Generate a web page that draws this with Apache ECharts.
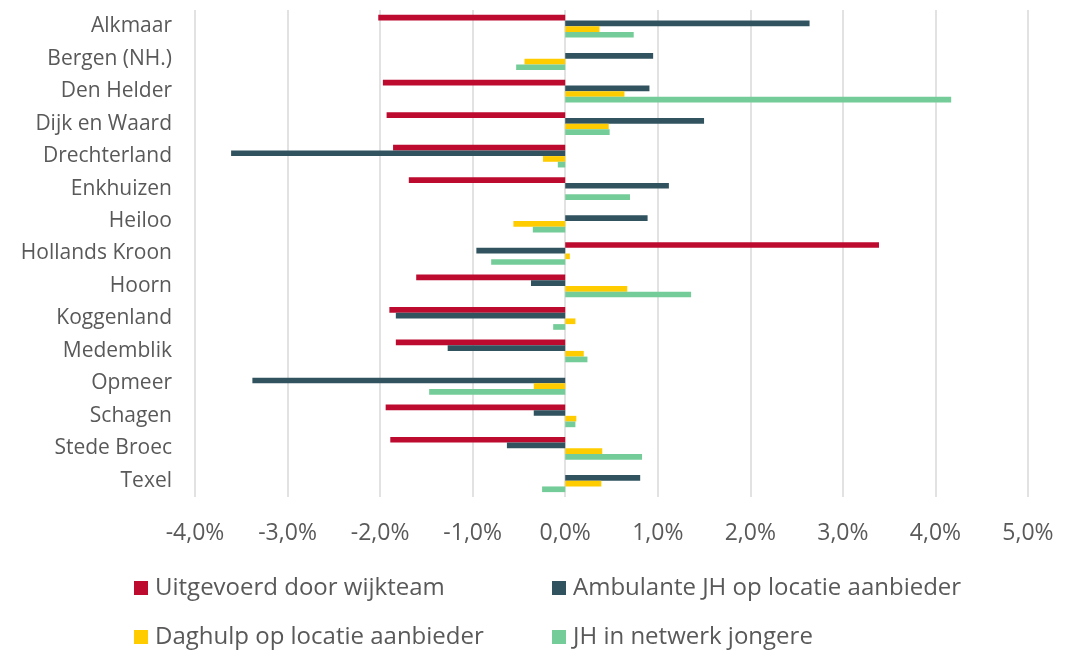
<!DOCTYPE html>
<html>
<head>
<meta charset="utf-8">
<style>
  html, body { margin: 0; padding: 0; background: #ffffff; }
  #chart { width: 1076px; height: 655px; }
</style>
<script src="https://cdn.jsdelivr.net/npm/echarts@6/dist/echarts.min.js"></script>
</head>
<body>
<div id="chart"></div>
<script>
// Gemeenten (top to bottom)
const gemeenten = [
  'Alkmaar', 'Bergen (NH.)', 'Den Helder', 'Dijk en Waard', 'Drechterland',
  'Enkhuizen', 'Heiloo', 'Hollands Kroon', 'Hoorn', 'Koggenland',
  'Medemblik', 'Opmeer', 'Schagen', 'Stede Broec', 'Texel'
];

// Change in percent per form of youth care
const wijkteam = [-2.02, 0, -1.97, -1.93, -1.86, -1.69, 0, 3.39, -1.61, -1.90, -1.83, 0, -1.94, -1.89, 0];
const ambulant = [2.64, 0.95, 0.91, 1.50, -3.61, 1.12, 0.89, -0.96, -0.37, -1.83, -1.27, -3.38, -0.34, -0.63, 0.81];
const daghulp  = [0.37, -0.44, 0.64, 0.47, -0.24, 0, -0.56, 0.05, 0.67, 0.11, 0.20, -0.34, 0.12, 0.40, 0.39];
const netwerk  = [0.74, -0.53, 4.17, 0.48, -0.08, 0.70, -0.35, -0.80, 1.36, -0.13, 0.24, -1.47, 0.11, 0.83, -0.25];

const seriesNames = [
  'Uitgevoerd door wijkteam',
  'Ambulante JH op locatie aanbieder',
  'Daghulp op locatie aanbieder',
  'JH in netwerk jongere'
];
const seriesData = [wijkteam, ambulant, daghulp, netwerk];
const seriesColors = ['#BC0B2E', '#30535F', '#FFCC00', '#74CC98'];

const textColor = '#595959';
const fontFamily = '"Open Sans", sans-serif';

const legendPos = [
  { left: 134, top: 576 },
  { left: 552, top: 576 },
  { left: 134, top: 625 },
  { left: 552, top: 625 }
];

const chart = echarts.init(document.getElementById('chart'), null, { renderer: 'canvas' });

chart.setOption({
  animation: false,
  backgroundColor: '#ffffff',
  textStyle: { fontFamily: fontFamily },
  grid: { left: 195, right: 48, top: 10, bottom: 158, containLabel: false },
  xAxis: {
    type: 'value',
    min: -4,
    max: 5,
    interval: 1,
    axisLine: { show: false },
    axisTick: { show: false },
    splitLine: { show: true, lineStyle: { color: '#D9D9D9', width: 1.5 } },
    axisLabel: {
      color: textColor,
      fontSize: 23,
      fontFamily: fontFamily,
      margin: 25,
      formatter: v => v.toFixed(1).replace('.', ',') + '%'
    }
  },
  yAxis: {
    type: 'category',
    data: gemeenten,
    inverse: true,
    axisLine: { show: false },
    axisTick: { show: false },
    splitLine: { show: false },
    axisLabel: {
      color: textColor,
      fontSize: 21,
      fontFamily: fontFamily,
      margin: 23
    }
  },
  legend: seriesNames.map((name, i) => ({
    data: [name],
    left: legendPos[i].left,
    top: legendPos[i].top,
    padding: 0,
    icon: 'rect',
    itemWidth: 14,
    itemHeight: 14,
    selectedMode: false,
    textStyle: {
      color: textColor,
      fontSize: 24,
      fontFamily: fontFamily,
      padding: [0, 0, 0, 2]
    }
  })),
  series: seriesNames.map((name, i) => ({
    name: name,
    type: 'bar',
    data: seriesData[i],
    barGap: '0%',
    barCategoryGap: '30%',
    itemStyle: { color: seriesColors[i] },
    emphasis: { disabled: true }
  }))
});
</script>
</body>
</html>
